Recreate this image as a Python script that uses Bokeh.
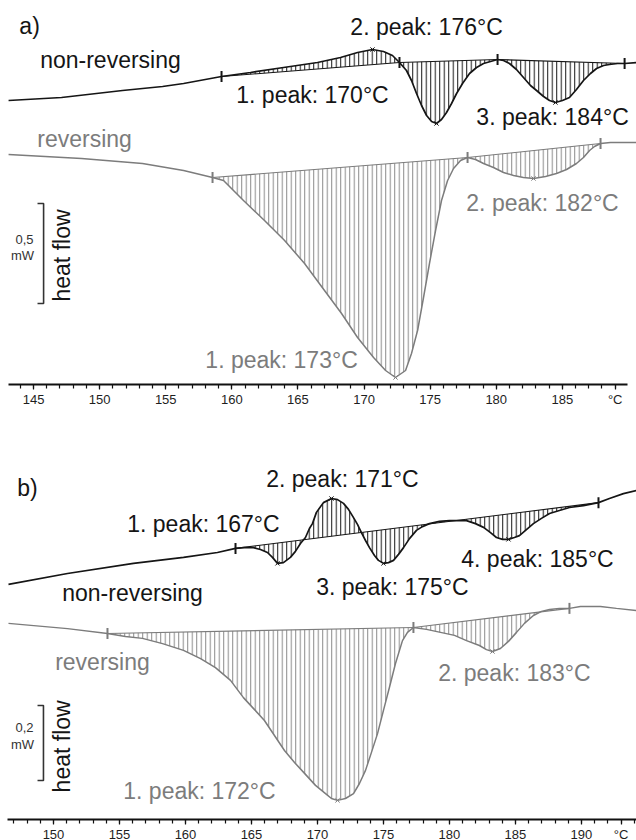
import numpy as np
from bokeh.plotting import figure
from bokeh.layouts import column
from bokeh.models import Range1d, FixedTicker
from bokeh.core.properties import value
from bokeh.embed import file_html
from bokeh.resources import INLINE

FONT = "Liberation Sans"
BLACK = "#151515"
GRAY = "#7c7c7c"
HATCH_GRAY = "#8a8a8a"

# ---------------- panel a) data (temperature in °C, heat flow in mW, arbitrary offset) -------------
a_nr_T = [143.11, 147.12, 151.73, 154.76, 156.35, 159.22, 161.41, 163.91, 166.48, 168.22, 169.51,
          170.64, 171.47, 172.15, 172.68, 173.21, 173.59, 173.97, 174.35, 174.73, 175.11, 175.48,
          175.86, 176.24, 176.62, 177.00, 177.45, 177.98, 178.51, 179.04, 179.57, 180.10, 180.55,
          181.00, 181.53, 182.06, 182.59, 183.05, 183.58, 184.03, 184.48, 185.01, 185.54, 186.07,
          186.60, 187.13, 187.59, 188.12, 188.57, 189.18, 189.71, 190.61]
a_nr_H = [1.420, 1.435, 1.470, 1.490, 1.505, 1.540, 1.560, 1.585, 1.610, 1.635, 1.660,
          1.675, 1.665, 1.645, 1.610, 1.570, 1.520, 1.455, 1.395, 1.345, 1.315, 1.305,
          1.325, 1.360, 1.405, 1.455, 1.505, 1.555, 1.585, 1.605, 1.615, 1.625, 1.620,
          1.605, 1.575, 1.535, 1.495, 1.470, 1.440, 1.420, 1.410, 1.420, 1.435, 1.475,
          1.520, 1.555, 1.580, 1.595, 1.600, 1.605, 1.605, 1.610]
a_nr_limits = [159.22, 172.68, 180.10, 189.71]
a_nr_peaks = [170.64, 175.48, 184.48]

a_rv_T = [143.11, 148.63, 153.24, 156.35, 158.54, 159.37, 160.88, 162.47, 163.99, 165.50, 167.01,
          168.30, 169.51, 170.72, 171.63, 172.38, 173.14, 173.59, 174.05, 174.50, 174.95, 175.41,
          175.86, 176.32, 176.77, 177.30, 177.83, 178.43, 179.04, 179.79, 180.55, 181.31, 182.06,
          182.82, 183.73, 184.56, 185.32, 186.07, 186.60, 187.06, 187.43, 187.89, 188.64, 189.40,
          190.61]
a_rv_H = [1.150, 1.130, 1.105, 1.070, 1.035, 1.020, 0.920, 0.820, 0.720, 0.605, 0.470,
          0.355, 0.235, 0.135, 0.070, 0.035, 0.070, 0.155, 0.270, 0.435, 0.605, 0.770,
          0.920, 1.020, 1.080, 1.120, 1.135, 1.125, 1.105, 1.085, 1.060, 1.045, 1.035,
          1.030, 1.040, 1.055, 1.075, 1.105, 1.135, 1.170, 1.190, 1.205, 1.210, 1.210,
          1.210]
a_rv_limits = [158.54, 177.83, 187.89]
a_rv_peaks = [172.38, 182.82]

a_ticks = [145, 150, 155, 160, 165, 170, 175, 180, 185]
a_unit_tick = 189
a_scale_mW = 0.5

# ---------------- panel b) data -------------
b_nr_T = [146.59, 151.06, 156.06, 159.85, 162.42, 163.79, 164.47, 165.15, 165.68, 166.21, 166.59,
          166.97, 167.42, 167.95, 168.33, 168.71, 169.09, 169.39, 169.62, 169.92, 170.45, 171.06,
          171.52, 171.97, 172.35, 172.73, 173.03, 173.33, 173.64, 173.94, 174.32, 174.62, 175.00,
          175.38, 175.76, 176.14, 176.52, 176.97, 177.50, 177.95, 178.48, 179.24, 180.00, 180.68,
          181.29, 181.97, 182.58, 183.11, 183.56, 184.02, 184.47, 184.92, 185.30, 185.83, 186.36,
          186.97, 187.58, 188.33, 189.09, 190.15, 191.29, 192.12, 193.18, 194.17]
b_nr_H = [0.627, 0.656, 0.683, 0.699, 0.712, 0.723, 0.725, 0.725, 0.720, 0.712, 0.699,
          0.683, 0.685, 0.699, 0.715, 0.736, 0.752, 0.776, 0.789, 0.819, 0.845, 0.856,
          0.853, 0.843, 0.827, 0.805, 0.787, 0.765, 0.744, 0.725, 0.704, 0.691, 0.683,
          0.685, 0.691, 0.707, 0.725, 0.749, 0.771, 0.781, 0.789, 0.795, 0.797, 0.797,
          0.797, 0.789, 0.779, 0.765, 0.752, 0.747, 0.747, 0.752, 0.757, 0.773, 0.789,
          0.803, 0.816, 0.824, 0.832, 0.837, 0.845, 0.856, 0.869, 0.877]
b_nr_limits = [163.79, 191.29]
b_nr_peaks = [166.97, 171.06, 175.00, 184.47]

b_rv_T = [146.59, 151.06, 154.09, 155.45, 156.74, 158.26, 159.85, 161.14, 162.27, 163.41, 164.39,
          165.23, 165.98, 166.74, 167.50, 168.26, 169.02, 169.85, 170.61, 171.06, 171.52, 172.12,
          172.73, 173.18, 173.64, 174.09, 174.55, 175.00, 175.45, 175.91, 176.44, 176.82, 177.27,
          178.26, 179.32, 180.38, 181.29, 182.27, 182.80, 183.26, 183.86, 184.47, 185.08, 185.68,
          186.36, 186.97, 187.58, 188.33, 189.09, 189.92, 190.61, 191.44, 192.65, 194.17]
b_rv_H = [0.523, 0.509, 0.496, 0.488, 0.483, 0.469, 0.451, 0.429, 0.405, 0.371, 0.325,
          0.293, 0.264, 0.224, 0.184, 0.152, 0.123, 0.091, 0.069, 0.056, 0.051, 0.056,
          0.069, 0.096, 0.131, 0.179, 0.229, 0.291, 0.352, 0.416, 0.477, 0.499, 0.512,
          0.507, 0.499, 0.491, 0.477, 0.464, 0.453, 0.448, 0.456, 0.475, 0.499, 0.523,
          0.544, 0.555, 0.560, 0.563, 0.563, 0.568, 0.568, 0.568, 0.563, 0.557]
b_rv_limits = [154.09, 177.27, 189.09]
b_rv_peaks = [171.52, 183.26]

b_ticks = [150, 155, 160, 165, 170, 175, 180, 185, 190]
b_unit_tick = 193
b_scale_mW = 0.2


def make_fig(x0, x1, y1, fh, bottom, ticks, unit_tick, bounds):
    p = figure(frame_width=636, frame_height=fh, x_range=Range1d(x0, x1), y_range=Range1d(0, y1),
               output_backend="svg", toolbar_location=None, y_axis_location=None,
               min_border_left=0, min_border_right=0, min_border_top=0, min_border_bottom=bottom)
    p.outline_line_color = None
    p.grid.visible = False
    p.background_fill_color = "white"
    ax = p.xaxis[0]
    minor = [t for t in range(int(np.ceil(bounds[0])), int(np.floor(bounds[1])) + 1)]
    ax.ticker = FixedTicker(ticks=ticks + [unit_tick], minor_ticks=minor)
    ax.major_label_overrides = {unit_tick: "°C"}
    ax.bounds = bounds
    ax.axis_line_width = 2
    ax.axis_line_color = "#111111"
    ax.major_tick_in = 0
    ax.major_tick_out = 5
    ax.minor_tick_in = 0
    ax.minor_tick_out = 4
    ax.major_tick_line_color = "#111111"
    ax.minor_tick_line_color = "#111111"
    ax.major_tick_line_width = 1.2
    ax.minor_tick_line_width = 1.2
    ax.major_label_text_font = FONT
    ax.major_label_text_font_size = "13px"
    ax.major_label_text_color = "#1e1e1e"
    ax.major_label_standoff = 2
    return p


def draw_series(p, T, H, limits, peaks, color, hatch_color, width):
    T = np.asarray(T, dtype=float)
    H = np.asarray(H, dtype=float)
    for t0, t1 in zip(limits[:-1], limits[1:]):
        sel = (T >= t0 - 1e-9) & (T <= t1 + 1e-9)
        xs = T[sel]
        ys = H[sel]
        h0, h1 = np.interp([t0, t1], T, H)
        base = np.interp(xs, [t0, t1], [h0, h1])
        p.varea(x=xs, y1=ys, y2=base, fill_color=None, fill_alpha=0,
                hatch_pattern="vertical_line", hatch_color=hatch_color,
                hatch_scale=4.5, hatch_weight=1)
        p.line([t0, t1], [h0, h1], line_color=color, line_width=1.1)
    p.line(T, H, line_color=color, line_width=width)
    mh = np.interp(limits, T, H)
    p.scatter(limits, mh, marker="dash", angle=np.pi / 2, size=11, line_color=color, line_width=2)
    ph = np.interp(peaks, T, H)
    p.scatter(peaks, ph, marker="x", size=6, line_color=color, line_width=1)


def texts(p, xs, ys, labels, color, size="23px", angle=0.0):
    p.text(x=xs, y=ys, text=labels, text_font=value(FONT), text_font_size=size,
           text_color=color, text_align="center", text_baseline="middle", angle=angle)


def scale_bar(p, x_tick, x_bar, y_bottom, length):
    p.line([x_tick, x_bar, x_bar, x_tick], [y_bottom + length, y_bottom + length, y_bottom, y_bottom],
           line_color="#333333", line_width=1.6)


# ---------------- panel a ----------------
pa = make_fig(142.50, 190.61, 1.92, 384, 36, a_ticks, a_unit_tick, (143.1, 189.9))
draw_series(pa, a_rv_T, a_rv_H, a_rv_limits, a_rv_peaks, GRAY, HATCH_GRAY, 1.5)
draw_series(pa, a_nr_T, a_nr_H, a_nr_limits, a_nr_peaks, BLACK, BLACK, 1.7)
texts(pa, [144.70], [1.795], ["a)"], BLACK)
texts(pa, [150.82, 174.73, 166.10, 184.26], [1.625, 1.79, 1.45, 1.34],
      ["non-reversing", "2. peak: 176°C", "1. peak: 170°C", "3. peak: 184°C"], BLACK)
texts(pa, [148.86, 183.50, 163.76], [1.23, 0.91, 0.125],
      ["reversing", "2. peak: 182°C", "1. peak: 173°C"], GRAY)
texts(pa, [144.32, 144.17], [0.725, 0.645], ["0,5", "mW"], "#333333", size="13px")
texts(pa, [147.12], [0.645], ["heat flow"], BLACK, angle=np.pi / 2)
scale_bar(pa, 145.30, 145.76, 0.405, a_scale_mW)

# ---------------- panel b ----------------
pb = make_fig(145.985, 194.17, 1.064, 399, 21, b_ticks, b_unit_tick, (146.5, 194.17))
draw_series(pb, b_rv_T, b_rv_H, b_rv_limits, b_rv_peaks, GRAY, HATCH_GRAY, 1.5)
draw_series(pb, b_nr_T, b_nr_H, b_nr_limits, b_nr_peaks, BLACK, BLACK, 1.7)
texts(pb, [148.03], [0.885], ["b)"], BLACK)
texts(pb, [171.89, 161.36, 155.99, 175.68, 186.67], [0.909, 0.787, 0.605, 0.619, 0.696],
      ["2. peak: 171°C", "1. peak: 167°C", "non-reversing", "3. peak: 175°C", "4. peak: 185°C"], BLACK)
texts(pb, [153.71, 184.92, 161.06], [0.421, 0.392, 0.077],
      ["reversing", "2. peak: 183°C", "1. peak: 172°C"], GRAY)
texts(pb, [147.80, 147.65], [0.245, 0.200], ["0,2", "mW"], "#333333", size="13px")
texts(pb, [150.61], [0.195], ["heat flow"], BLACK, angle=np.pi / 2)
scale_bar(pb, 148.79, 149.24, 0.104, b_scale_mW)

layout = column(pa, pb, spacing=0)
open("out.html", "w").write(file_html(layout, INLINE))
